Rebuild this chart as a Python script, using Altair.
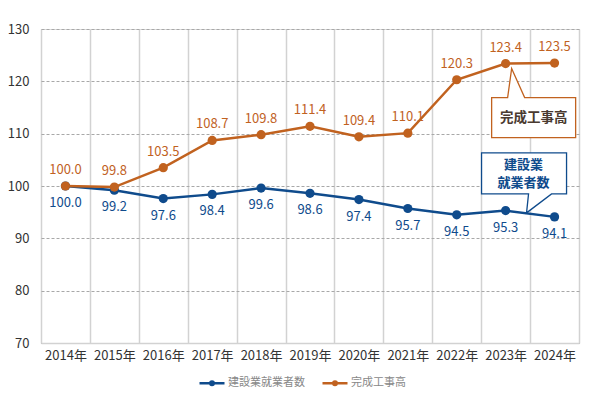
import altair as alt
import pandas as pd

years = ["2014年", "2015年", "2016年", "2017年", "2018年", "2019年",
         "2020年", "2021年", "2022年", "2023年", "2024年"]
workers = [100.0, 99.2, 97.6, 98.4, 99.6, 98.6, 97.4, 95.7, 94.5, 95.3, 94.1]
output = [100.0, 99.8, 103.5, 108.7, 109.8, 111.4, 109.4, 110.1, 120.3, 123.4, 123.5]
series_names = ["建設業就業者数", "完成工事高"]

BLUE = "#0f4b8c"
ORANGE = "#c1621f"
FONT = "Noto Sans CJK JP"

rows = []
for y, w, o in zip(years, workers, output):
    rows.append({"year": y, "series": series_names[0], "value": w, "label": f"{w:.1f}"})
    rows.append({"year": y, "series": series_names[1], "value": o, "label": f"{o:.1f}"})
df = pd.DataFrame(rows)

x_enc = alt.X("year:N", sort=years, title=None,
              scale=alt.Scale(type="band", paddingInner=0, paddingOuter=0),
              axis=alt.Axis(labelAngle=0, ticks=False, tickBand="extent", grid=True,
                            gridColor="#d2d2d2", gridWidth=1.5, domainColor="#d2d2d2",
                            domainWidth=1.5, labelFontSize=13, labelColor="#333333",
                            labelFont=FONT, labelPadding=6))
y_enc = alt.Y("value:Q", title=None,
              scale=alt.Scale(domain=[70, 130], nice=False, zero=False),
              axis=alt.Axis(values=[70, 80, 90, 100, 110, 120, 130], ticks=False, domain=False,
                            gridColor="#a8a8a8", gridDash=[3, 2], gridWidth=1,
                            labelFontSize=13, labelColor="#333333", labelFont=FONT,
                            labelPadding=12))

color_scale = alt.Scale(domain=series_names, range=[BLUE, ORANGE])

legend_path = "M-1,0L1,0M-0.14,0A0.14,0.14,0,1,0,0.14,0A0.14,0.14,0,1,0,-0.14,0Z"

base = alt.Chart(df)

lines = base.mark_line(strokeWidth=2.5).encode(
    x=x_enc, y=y_enc,
    color=alt.Color("series:N", scale=color_scale, sort=series_names, title=None,
                    legend=alt.Legend(orient="none", legendX=157, legendY=340,
                                      direction="horizontal", symbolType=legend_path,
                                      symbolSize=625, symbolStrokeWidth=2.5,
                                      labelFontSize=11, labelColor="#888888", labelFont=FONT,
                                      labelOffset=2, columnPadding=12, padding=0)),
)
points = base.mark_point(filled=True, size=85, opacity=1).encode(
    x=alt.X("year:N", sort=years),
    y="value:Q",
    color=alt.Color("series:N", scale=color_scale, legend=None),
)

labels_o = base.transform_filter(alt.datum.series == series_names[1]).mark_text(
    dy=-16, fontSize=13, font=FONT, color=ORANGE, baseline="middle"
).encode(x=alt.X("year:N", sort=years), y="value:Q", text="label:N")
labels_b = base.transform_filter(alt.datum.series == series_names[0]).mark_text(
    dy=17, fontSize=13, font=FONT, color=BLUE, baseline="middle"
).encode(x=alt.X("year:N", sort=years), y="value:Q", text="label:N")

# Callouts anchored on data points (path in pixel offsets, size=4 -> scale 1)
call_o_df = pd.DataFrame({"year": ["2023年"], "value": [123.4], "text": ["完成工事高"]})
call_b_df = pd.DataFrame({"year": ["2024年"], "value": [94.1]})
call_b_txt = pd.DataFrame({"year": ["2024年", "2024年"], "value": [94.1, 94.1],
                           "text": ["建設業", "就業者数"]})

path_o = "M6,5L19,34L70,34L70,74L-14,74L-14,34L2,34Z"
path_b = "M-28,-4L-3,-23L12,-23L12,-64L-73,-64L-73,-23L-26,-23Z"

callout_o = alt.Chart(call_o_df).mark_point(
    shape=path_o, size=4, fill="white", stroke=ORANGE, strokeWidth=1.3, opacity=1, filled=False
).encode(x=alt.X("year:N", sort=years), y="value:Q")
callout_o_txt = alt.Chart(call_o_df).mark_text(
    dx=28, dy=54, fontSize=13.5, font=FONT, fontWeight="bold", color="#4a3a30", baseline="middle"
).encode(x=alt.X("year:N", sort=years), y="value:Q", text="text:N")

callout_b = alt.Chart(call_b_df).mark_point(
    shape=path_b, size=4, fill="white", stroke=BLUE, strokeWidth=1.3, opacity=1, filled=False
).encode(x=alt.X("year:N", sort=years), y="value:Q")
callout_b_txt1 = alt.Chart(call_b_txt.iloc[[0]]).mark_text(
    dx=-31, dy=-52, fontSize=13, font=FONT, fontWeight="bold", color=BLUE, baseline="middle"
).encode(x=alt.X("year:N", sort=years), y="value:Q", text="text:N")
callout_b_txt2 = alt.Chart(call_b_txt.iloc[[1]]).mark_text(
    dx=-31, dy=-34, fontSize=13, font=FONT, fontWeight="bold", color=BLUE, baseline="middle"
).encode(x=alt.X("year:N", sort=years), y="value:Q", text="text:N")

chart = alt.layer(
    lines, callout_o, callout_b, callout_o_txt, callout_b_txt1, callout_b_txt2,
    points, labels_o, labels_b
).properties(
    width=538, height=314,
    autosize=alt.AutoSizeParams(type="none"),
    padding={"left": 33, "top": 21, "right": 3, "bottom": 45},
).configure_view(stroke=None).configure(background="white")

chart.save("out.html", embed_options={"renderer": "svg", "actions": False})
